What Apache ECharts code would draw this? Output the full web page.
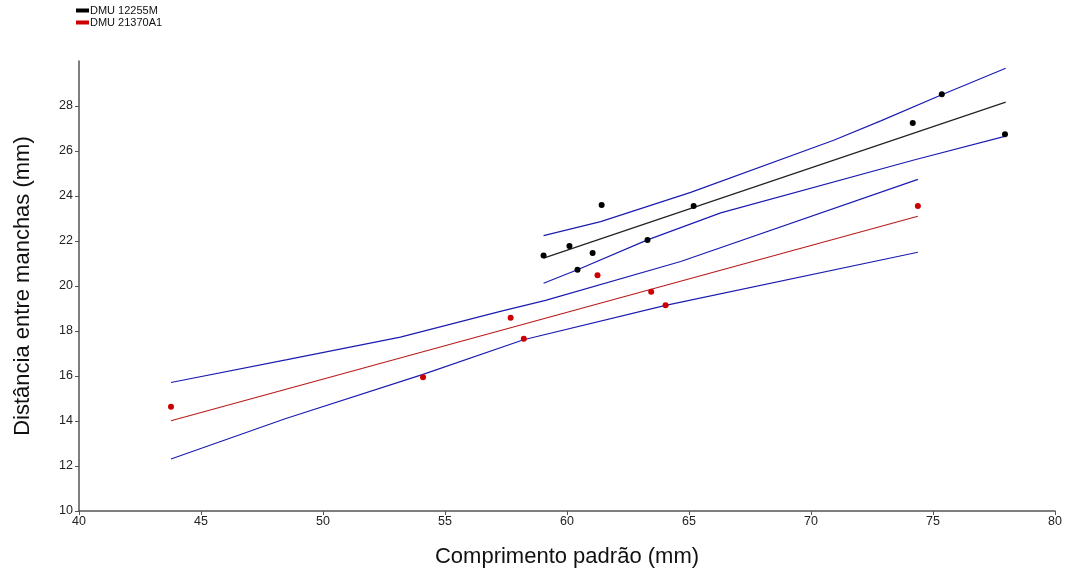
<!DOCTYPE html>
<html>
<head>
<meta charset="utf-8">
<script src="https://cdn.jsdelivr.net/npm/echarts@6/dist/echarts.min.js"></script>
<style>
  html, body { margin: 0; padding: 0; background: #fff; }
  #chart { width: 1065px; height: 573px; }
</style>
</head>
<body>
<div id="chart"></div>
<script>
// tick labels
var xTicks = [40, 45, 50, 55, 60, 65, 70, 75, 80];
var yTicks = [10, 12, 14, 16, 18, 20, 22, 24, 26, 28];

// DMU 12255M: observed points [comprimento, distancia]
var ptsA = [
	[59.04, 21.36], [60.10, 21.78], [61.05, 21.47], [60.43, 20.72], [61.42, 23.60],
	[63.30, 22.05], [65.19, 23.56], [74.17, 27.24], [75.36, 28.52], [77.95, 26.75]
];
var fitA = [[59.04, 21.24], [77.98, 28.17]];
var upA = [
	[59.04, 22.24], [61.38, 22.86], [65.07, 24.16], [70.93, 26.48],
	[72.86, 27.34], [75.36, 28.50], [77.98, 29.68]
];
var lowA = [
	[59.04, 20.12], [60.43, 20.72], [63.30, 22.05], [66.30, 23.25],
	[74.22, 25.60], [77.98, 26.66]
];

// DMU 21370A1
var ptsB = [
	[43.77, 14.63], [54.10, 15.94], [57.69, 18.59], [58.23, 17.66],
	[61.25, 20.48], [63.45, 19.74], [64.04, 19.15], [74.38, 23.56]
];
var fitB = [[43.77, 14.01], [74.38, 23.10]];
var upB = [
	[43.77, 15.71], [48.53, 16.73], [53.17, 17.73], [57.27, 18.87],
	[59.12, 19.36], [64.66, 21.09], [74.38, 24.74]
];
var lowB = [
	[43.77, 12.31], [48.45, 14.10], [54.07, 16.06], [58.22, 17.61],
	[64.04, 19.14], [74.38, 21.50]
];

var blue = '#1c1cb0';

function lineSerie(name, data, color){
	return {
		name: name,
		type: 'line',
		data: data,
		showSymbol: false,
		lineStyle: { color: color, width: 1.2 },
		silent: true,
		z: 2
	};
}

function pointSerie(name, data, color){
	return {
		name: name,
		type: 'scatter',
		data: data,
		symbolSize: 6,
		itemStyle: { color: color, opacity: 1 },
		z: 5
	};
}

var chart = echarts.init(document.getElementById('chart'));
chart.setOption({
	animation: false,
	backgroundColor: '#fff',
	textStyle: { fontFamily: 'Liberation Sans, Arial, sans-serif' },
	legend: {
		data: ['DMU 12255M', 'DMU 21370A1'],
		orient: 'vertical',
		left: 76,
		top: 5,
		itemWidth: 13,
		itemHeight: 4,
		itemGap: 1,
		icon: 'rect',
		padding: 0,
		itemStyle: { opacity: 1 },
		textStyle: { fontSize: 11, color: '#111', padding: [0, 0, 0, -4] }
	},
	grid: { left: 79, right: 10, top: 61, bottom: 60 },
	xAxis: {
		type: 'value',
		min: 40,
		max: 80,
		interval: 5,
		name: 'Comprimento padrão (mm)',
		nameLocation: 'middle',
		nameGap: 35,
		nameTextStyle: { fontSize: 22, color: '#111' },
		splitLine: { show: false },
		axisLine: { lineStyle: { color: '#555', width: 1.5 } },
		axisTick: { inside: false, length: 4, lineStyle: { color: '#555' }, customValues: xTicks },
		axisLabel: { fontSize: 12.5, color: '#222', margin: 4, customValues: xTicks }
	},
	yAxis: {
		type: 'value',
		min: 10,
		max: 30,
		interval: 2,
		name: 'Distância entre manchas (mm)',
		nameLocation: 'middle',
		nameGap: 45,
		nameTextStyle: { fontSize: 22, color: '#111' },
		splitLine: { show: false },
		axisLine: { show: true, lineStyle: { color: '#555', width: 1.5 } },
		axisTick: { show: true, inside: false, length: 4, lineStyle: { color: '#555' }, customValues: yTicks },
		axisLabel: { fontSize: 12.5, color: '#222', margin: 6, customValues: yTicks }
	},
	series: [
		lineSerie('upA', upA, blue),
		lineSerie('lowA', lowA, blue),
		lineSerie('fitA', fitA, '#222'),
		lineSerie('upB', upB, blue),
		lineSerie('lowB', lowB, blue),
		lineSerie('fitB', fitB, '#b81c1c'),
		pointSerie('DMU 12255M', ptsA, '#000'),
		pointSerie('DMU 21370A1', ptsB, '#cc0000')
	]
});
</script>
</body>
</html>
